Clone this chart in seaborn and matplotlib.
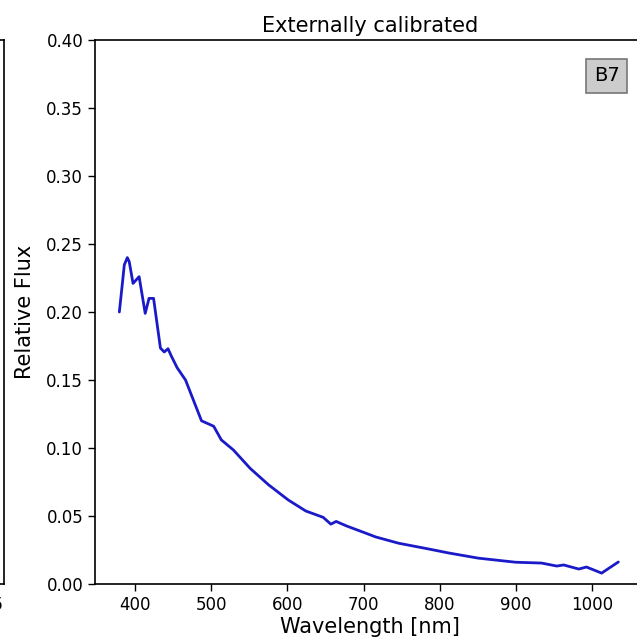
import numpy as np
import pandas as pd
import matplotlib
matplotlib.use("Agg")
import matplotlib.pyplot as plt
import seaborn as sns

wavelength = [379, 383, 385.5, 389.5, 392, 397, 405, 413, 418, 424, 433, 438, 443,
              447, 455, 466, 487, 503, 513, 529, 551, 575, 601, 624, 647, 657, 664,
              678, 700, 716, 746, 786, 812, 851, 900, 934, 954, 963, 983, 993,
              1013, 1025, 1035]
flux = [0.200, 0.221, 0.2346, 0.240, 0.237, 0.221, 0.226, 0.199, 0.210, 0.210,
        0.1735, 0.1706, 0.173, 0.168, 0.159, 0.150, 0.120, 0.116, 0.106, 0.0985,
        0.085, 0.073, 0.0618, 0.0537, 0.049, 0.044, 0.046, 0.0426, 0.038, 0.0346,
        0.030, 0.0257, 0.0228, 0.019, 0.016, 0.0154, 0.0132, 0.014, 0.011, 0.0125,
        0.008, 0.0125, 0.0162]
title = "Externally calibrated"
xlabel = "Wavelength [nm]"
ylabel = "Relative Flux"
badge = "B7"
xticks = [400, 500, 600, 700, 800, 900, 1000]
yticks = [0.00, 0.05, 0.10, 0.15, 0.20, 0.25, 0.30, 0.35, 0.40]
left_panel_tick = "1.25"

sns.set_style("ticks")
plt.rcParams['font.family'] = ['DejaVu Sans']
plt.rcParams.update({
    "text.color": "black",
    "axes.labelcolor": "black",
    "xtick.color": "black",
    "ytick.color": "black",
    "axes.edgecolor": "black",
})

W, H = 637, 643
fig = plt.figure(figsize=(W / 100, H / 100), dpi=100)

# main axes (right edge runs past the canvas)
l, r, b, t = 95, 645, 584, 40
ax = fig.add_axes([l / W, (H - b) / H, (r - l) / W, (b - t) / H])
df = pd.DataFrame({"wl": wavelength, "flux": flux})
sns.lineplot(data=df, x="wl", y="flux", ax=ax, color="#1a1ac8", linewidth=2)
ax.set_xlim(347, 1070)
ax.set_ylim(0, 0.4)
ax.set_xticks(xticks)
ax.set_yticks(yticks)
ax.set_yticklabels([f"{v:.2f}" for v in yticks])
ax.tick_params(labelsize=12, length=5, width=1, color="black", labelcolor="black")
ax.set_title(title, fontsize=15, pad=6, color="black")
ax.set_xlabel(xlabel, fontsize=15, labelpad=2, color="black")
ax.set_ylabel(ylabel, fontsize=15, labelpad=8, color="black")
for s in ax.spines.values():
    s.set_color("black")
    s.set_linewidth(1.2)
ax.text(0.93, 0.934, badge, transform=ax.transAxes, fontsize=14,
        ha="center", va="center", color="black",
        bbox=dict(boxstyle="square,pad=0.38", facecolor="#cccccc",
                  edgecolor="#777777", linewidth=1.2))

# partially visible neighbouring panel on the left
l2, r2 = -500, 3.5
ax0 = fig.add_axes([l2 / W, (H - b) / H, (r2 - l2) / W, (b - t) / H])
ax0.set_xlim(0, r2 - l2)
ax0.set_ylim(0, 1)
ax0.set_xticks([r2 - l2 - 19])
ax0.set_xticklabels([left_panel_tick])
ax0.set_yticks([])
ax0.tick_params(labelsize=12, length=5, width=1, color="black", labelcolor="black")
for s in ax0.spines.values():
    s.set_color("black")
    s.set_linewidth(1.2)

fig.savefig("out.png", dpi=100)
